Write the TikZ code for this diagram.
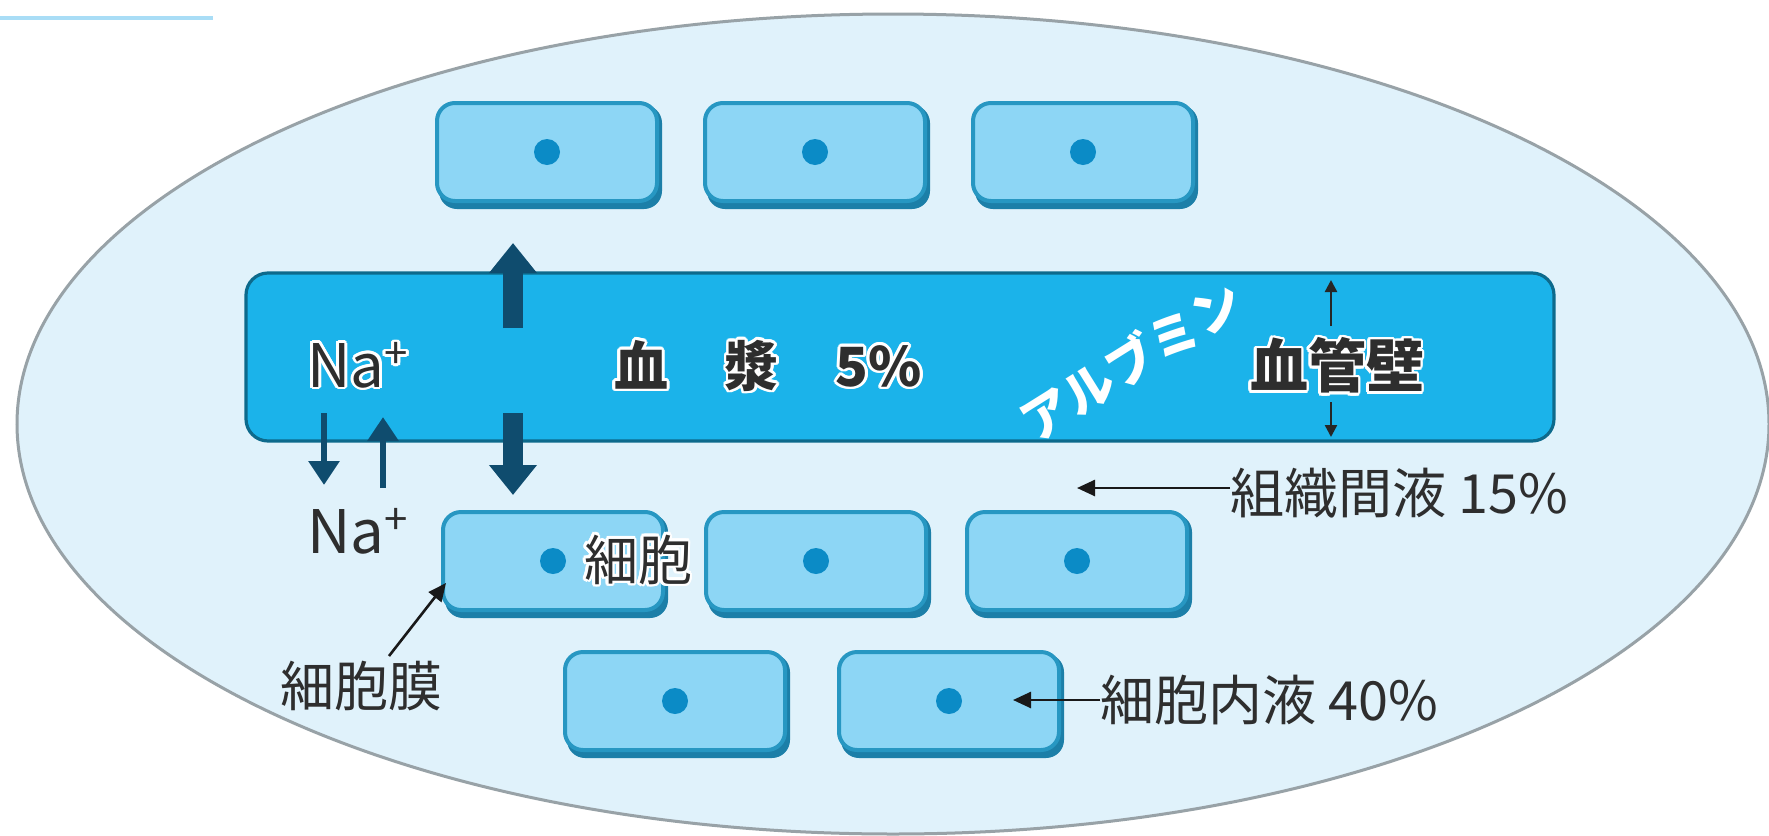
\documentclass[tikz,border=0pt]{standalone}
\usepackage{fontspec}
\setmainfont{Noto Sans CJK JP}
\usepackage[copies]{contour}
\contourlength{1.4pt}
\contournumber{16}
\usetikzlibrary{arrows.meta}
\definecolor{ellfill}{HTML}{E0F2FB}
\definecolor{ellline}{HTML}{98A2A7}
\definecolor{barfill}{HTML}{1BB3EA}
\definecolor{barline}{HTML}{0D6A8C}
\definecolor{cellfill}{HTML}{8DD6F5}
\definecolor{cellline}{HTML}{2797C2}
\definecolor{cellshade}{HTML}{1C7FA8}
\definecolor{dotcol}{HTML}{0B8BC6}
\definecolor{bigarrow}{HTML}{0F4C6E}
\definecolor{txt}{HTML}{2E2E2E}
\definecolor{topline}{HTML}{A9DDF6}
\begin{document}
\begin{tikzpicture}[x=0.5pt,y=-0.5pt,
  cellbox/.style={draw=cellline, fill=cellfill, line width=2pt, rounded corners=9pt,
    minimum width=110pt, minimum height=49pt, inner sep=0pt},
  barbox/.style={draw=barline, fill=barfill, line width=1.6pt, rounded corners=11pt,
    minimum width=654pt, minimum height=84pt, inner sep=0pt},
  bigarr/.style={draw=bigarrow, line width=10pt, -{Triangle[width=23pt,length=15pt]}},
  naarr/.style={draw=bigarrow, line width=3pt, -{Triangle[width=15pt,length=12pt]}},
  wallarr/.style={draw=black!85, line width=1.2pt, -{Triangle[width=6pt,length=6pt]}},
  labarr/.style={draw=black!90, line width=1.3pt, -{Triangle[width=8pt,length=9pt]}},
  bartext/.style={font=\fontsize{27pt}{30pt}\selectfont\bfseries, text=txt, inner sep=0pt},
  natext/.style={font=\fontsize{30pt}{32pt}\selectfont, text=txt, inner sep=0pt},
  labtext/.style={font=\fontsize{27pt}{30pt}\selectfont, text=txt, inner sep=0pt},
  albtext/.style={font=\fontsize{25pt}{28pt}\selectfont\bfseries, text=white, inner sep=0pt}
]
\useasboundingbox (0,0) rectangle (1769,836);
\fill[white] (0,0) rectangle (1769,836);
% top-left rule
\draw[topline, line width=2pt] (0,18) -- (213,18);
% body ellipse
\draw[fill=ellfill, draw=ellline, line width=1.5pt] (893,424) ellipse [x radius=876, y radius=410];
% cells
\foreach \n/\x/\y in {c1/547/152, c2/815/152, c3/1083/152, c4/553/561, c5/816/561, c6/1077/561, c7/675/701, c8/949/701} {
  \fill[cellshade, rounded corners=9pt] (\x-108,\y-47) rectangle (\x+115,\y+57);
  \node[cellbox] (\n) at (\x,\y) {};
  \fill[dotcol] (\n.center) circle (6.5pt);
}
% plasma bar
\node[barbox] (plasma) at (900,357) {};
% big arrows
\coordinate (upS) at (513,328); \coordinate (upE) at (513,243);
\coordinate (dnS) at (513,413); \coordinate (dnE) at (513,495);
\draw[bigarr] (upS) -- (upE);
\draw[bigarr] (dnS) -- (dnE);
% Na arrows
\coordinate (naDS) at (324,413); \coordinate (naDE) at (324,485);
\coordinate (naUS) at (383,488); \coordinate (naUE) at (383,417);
\draw[naarr] (naDS) -- (naDE);
\draw[naarr] (naUS) -- (naUE);
% texts in bar
\node[natext, anchor=base west] (na1) at (307,387) {\contour{white}{Na\textsuperscript{+}}};
\node[bartext] (plasmaLabel) at (768,367) {\contour{white}{血\hspace{1.05em}漿\hspace{1.05em}5\%}};
\node[albtext, rotate=32] (alb) at (1131,360) {アルブミン};
\node[bartext, font=\fontsize{29pt}{31pt}\selectfont\bfseries] (wall) at (1337,367) {\contour{white}{血管壁}};
% wall arrows
\coordinate (wUS) at (1331,326); \coordinate (wUE) at (1331,280);
\coordinate (wDS) at (1331,402); \coordinate (wDE) at (1331,437);
\draw[wallarr] (wUS) -- (wUE);
\draw[wallarr] (wDS) -- (wDE);
% outer labels
\node[natext, anchor=base west] (na2) at (307,553) {Na\textsuperscript{+}};
\node[labtext, anchor=west] (tissue) at (1230,493) {組織間液 15\%};
\coordinate (tissueTip) at (1077,488);
\draw[labarr] (tissue.west |- tissueTip) -- (tissueTip);
\node[labtext] (cellLabel) at (638,561) {\contour{white}{細胞}};
\node[labtext] (memb) at (361,686) {細胞膜};
\coordinate (membS) at (389,656); \coordinate (membTip) at (446,583);
\draw[labarr] (membS) -- (membTip);
\node[labtext, anchor=west] (intra) at (1100,700) {細胞内液 40\%};
\coordinate (intraTip) at (1013,700);
\draw[labarr] (intra.west) -- (intraTip);
\end{tikzpicture}
\end{document}
